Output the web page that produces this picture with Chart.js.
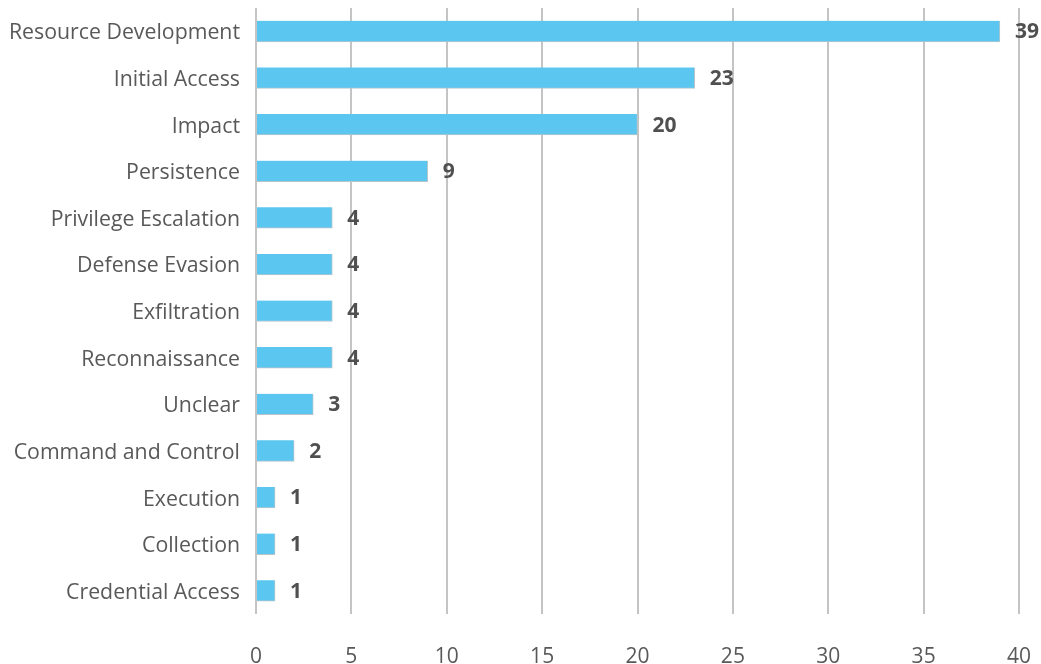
<!DOCTYPE html>
<html>
<head>
<meta charset="utf-8">
<script src="https://cdn.jsdelivr.net/npm/chart.js@4.4.0/dist/chart.umd.min.js"></script>
<style>
  html, body { margin: 0; padding: 0; background: #ffffff; }
  #wrap { width: 1041px; height: 664px; position: relative; }
</style>
</head>
<body>
<div id="wrap"><canvas id="c"></canvas></div>
<script>
const categories = [
  "Resource Development", "Initial Access", "Impact", "Persistence",
  "Privilege Escalation", "Defense Evasion", "Exfiltration", "Reconnaissance",
  "Unclear", "Command and Control", "Execution", "Collection", "Credential Access"
];
const counts = [39, 23, 20, 9, 4, 4, 4, 4, 3, 2, 1, 1, 1];
const xTicks = [0, 5, 10, 15, 20, 25, 30, 35, 40];

const valueLabels = {
  id: 'valueLabels',
  afterDatasetsDraw(chart) {
    const ctx = chart.ctx;
    const meta = chart.getDatasetMeta(0);
    ctx.save();
    ctx.font = 'bold 21px "Open Sans", sans-serif';
    ctx.fillStyle = '#505050';
    ctx.textAlign = 'left';
    ctx.textBaseline = 'middle';
    meta.data.forEach((bar, i) => {
      ctx.fillText(String(chart.data.datasets[0].data[i]), bar.x + 15, bar.y + 1);
    });
    ctx.restore();
  }
};

new Chart(document.getElementById('c'), {
  type: 'bar',
  data: {
    labels: categories,
    datasets: [{
      data: counts,
      backgroundColor: '#5bc7f1',
      borderColor: '#b8c4ca',
      borderWidth: { top: 0, left: 0, right: 1, bottom: 1 },
      borderSkipped: false,
      barThickness: 21
    }]
  },
  options: {
    indexAxis: 'y',
    responsive: true,
    maintainAspectRatio: false,
    animation: false,
    layout: { padding: { top: 8, right: 22, bottom: 0, left: 0 } },
    plugins: { legend: { display: false }, tooltip: { enabled: false } },
    scales: {
      x: {
        min: 0, max: 40,
        afterBuildTicks(axis) { axis.ticks = xTicks.map(v => ({ value: v })); },
        afterFit(axis) { axis.height = 50; axis.paddingLeft = 0; axis.paddingRight = 0; },
        border: { display: false },
        grid: { color: '#c4c4c4', lineWidth: 2, drawTicks: false },
        ticks: {
          padding: 30,
          color: '#595959',
          font: { family: '"Open Sans", sans-serif', size: 21 }
        }
      },
      y: {
        afterFit(axis) { axis.width = 256; axis.paddingTop = 0; axis.paddingBottom = 0; },
        border: { display: false },
        grid: { display: false, drawTicks: false },
        ticks: {
          padding: 16,
          labelOffset: 2,
          color: '#595959',
          font: { family: '"Open Sans", sans-serif', size: 21.3 }
        }
      }
    }
  },
  plugins: [valueLabels]
});
</script>
</body>
</html>
